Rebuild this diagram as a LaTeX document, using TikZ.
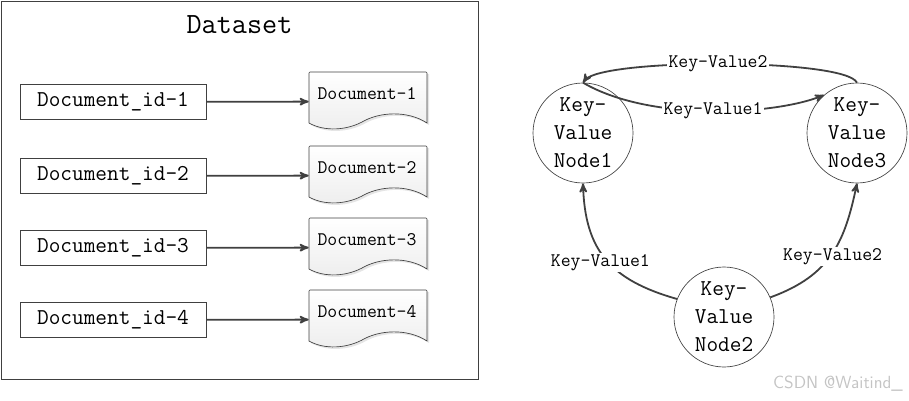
\documentclass[tikz,border=0pt]{standalone}
\usepackage{tikz}
\usetikzlibrary{shapes,arrows}

\definecolor{linegray}{HTML}{404040}
\definecolor{markgray}{HTML}{C4C4C4}

\tikzset{
    idbox/.style={draw=linegray,line width=0.5pt,minimum width=139.5pt,minimum height=26.25pt,inner sep=0pt,font=\ttfamily\fontsize{17}{20}\selectfont},
    docbox/.style={inner sep=0pt,minimum width=88.5pt,minimum height=44.25pt},
    doctext/.style={inner sep=0pt,font=\ttfamily\fontsize{14.4}{18}\selectfont},
    kvnode/.style={circle,draw=linegray,line width=0.5pt,minimum size=75pt,inner sep=0pt,align=center,font=\ttfamily\fontsize{17}{21}\selectfont},
    kvlabel/.style={fill=white,inner sep=1pt,font=\ttfamily\fontsize{14.4}{18}\selectfont},
    link/.style={draw=linegray,line width=1.35pt,-stealth',shorten >=0pt}
}

% one document sheet with its wavy lower edge
\newcommand{\docsheet}[4]{
    \begin{scope}[shift={(#2,#3)}]
        \fill [black!10] (2,2) -- (120,2) -- (120,53) .. controls (100,40) and (72,42) .. (55,52) .. controls (40,60) and (18,62) .. (2,53) -- cycle;
        \draw [linegray,line width=0.5pt,top color=white,bottom color=black!7] (0,1) -- (1,0) -- (117,0) -- (118,1) -- (118,51) .. controls (98,38) and (70,40) .. (53,50) .. controls (38,58) and (16,60) .. (0,51) -- cycle;
        \node [docbox] (#1) at (59,29.5) {};
        \node [doctext] (#1text) at (58,22) {#4};
    \end{scope}
}

\begin{document}
\begin{tikzpicture}[x=0.75pt,y=-0.75pt]
    \useasboundingbox (0,0) rectangle (909,400);

    % Dataset frame
    \node [draw=linegray,line width=0.5pt,minimum width=357.75pt,minimum height=283.5pt,inner sep=0pt] (frame) at (239.5,190) {};
    \node [inner sep=0pt,font=\ttfamily\fontsize{22}{25}\selectfont] (title) at (239.5,25) {Dataset};

    % Document ids
    \node [idbox] (id1) at (113,102) {Document\_id-1};
    \node [idbox] (id2) at (113,176) {Document\_id-2};
    \node [idbox] (id3) at (113,248) {Document\_id-3};
    \node [idbox] (id4) at (113,320) {Document\_id-4};

    % Documents
    \docsheet{doc1}{309}{72}{Document-1}
    \docsheet{doc2}{309}{146}{Document-2}
    \docsheet{doc3}{309}{218}{Document-3}
    \docsheet{doc4}{309}{290}{Document-4}

    % id to document
    \draw [link] (id1) -- (doc1);
    \draw [link] (id2) -- (doc2);
    \draw [link] (id3) -- (doc3);
    \draw [link] (id4) -- (doc4);

    % Key-Value nodes
    \node [kvnode] (node1) at (583,133) {Key-\\Value\\Node1};
    \node [kvnode] (node3) at (857,133) {Key-\\Value\\Node3};
    \node [kvnode] (node2) at (724,317) {Key-\\Value\\Node2};

    % Replication paths
    \draw [link] (node3.north) .. controls (845,58) and (600,58) .. node [kvlabel,pos=0.51] (kv32) {Key-Value2} (node1.north);
    \draw [link] (node1.north) .. controls (650,122) and (775,115) .. node [kvlabel,pos=0.51] (kv13) {Key-Value1} (node3.131);
    \draw [link] (node2.159) .. controls (610,280) and (585,250) .. node [kvlabel,pos=0.47,xshift=-6pt] (kv21) {Key-Value1} (node1.south);
    \draw [link] (node2.23) .. controls (832,275) and (845,240) .. node [kvlabel,pos=0.47,xshift=2pt] (kv23) {Key-Value2} (node3.south);

    % Watermark
    \node [inner sep=0pt,text=markgray,font=\sffamily\fontsize{13.2}{15}\selectfont] (mark) at (838,384) {CSDN @Waitind\_};
\end{tikzpicture}
\end{document}
